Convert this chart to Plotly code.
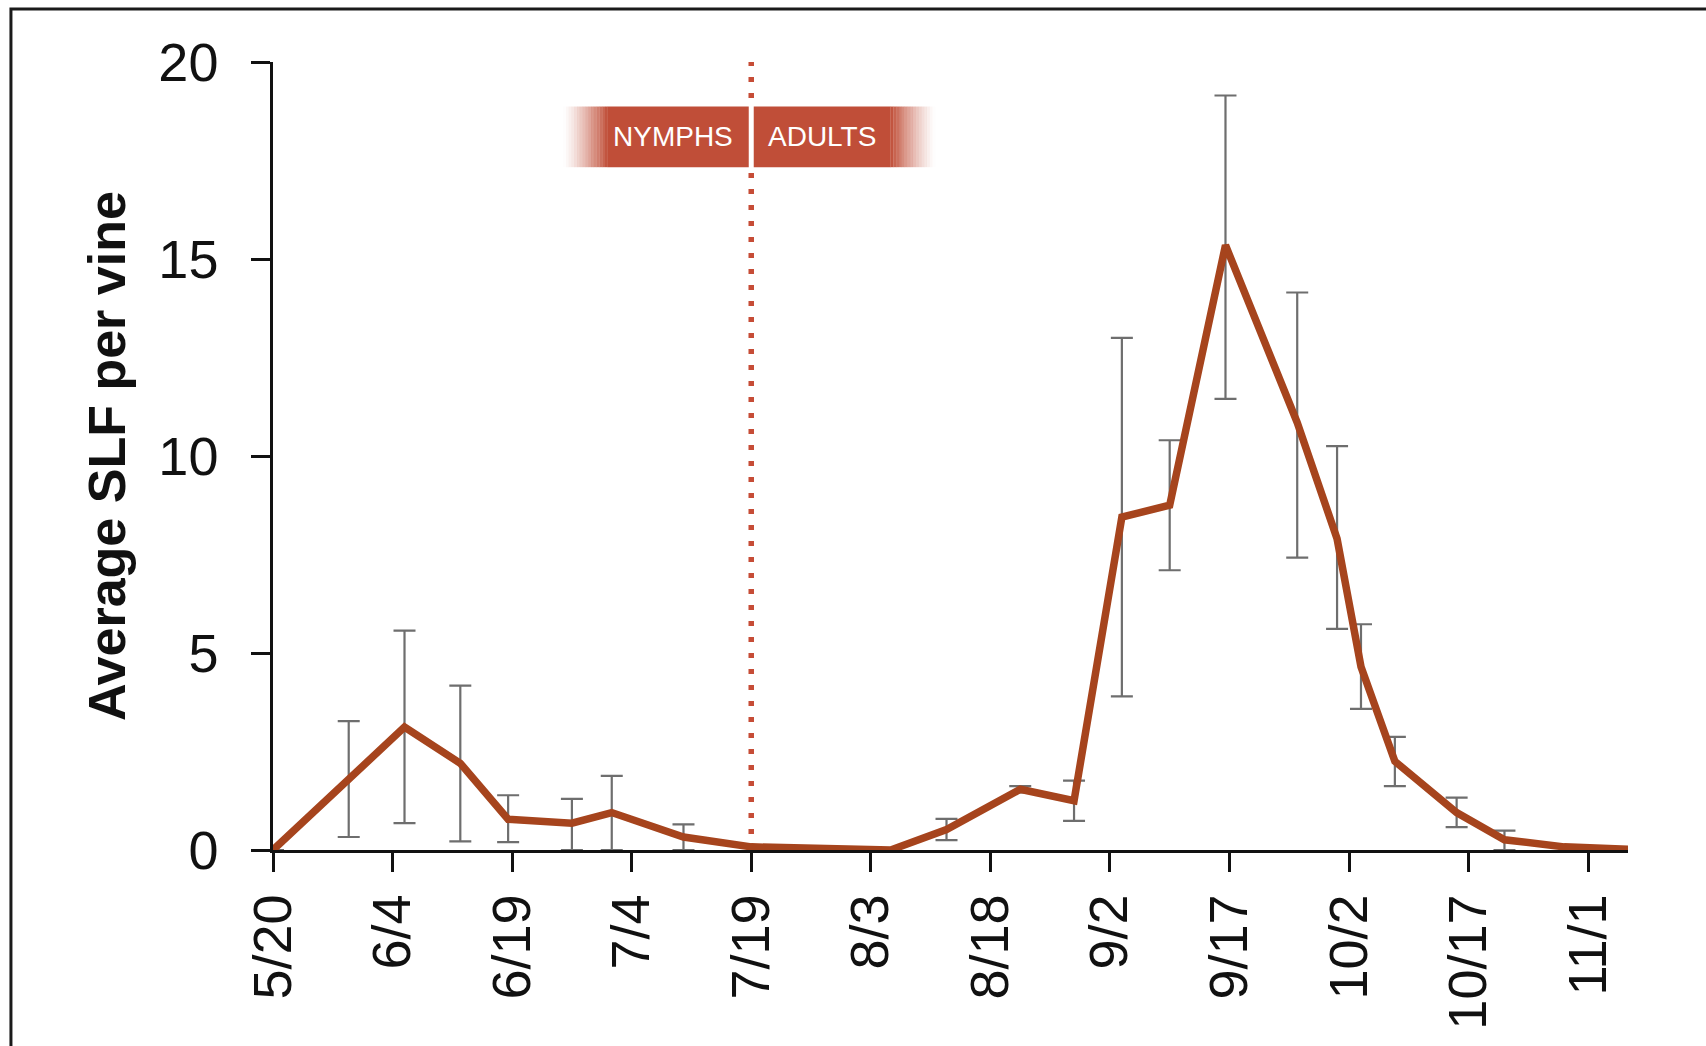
import pandas as pd
import plotly.graph_objects as go

# ---------------- data ----------------
sample_dates = ["2018-05-20", "2018-05-29 12:00", "2018-06-05 12:00", "2018-06-12 12:00",
                "2018-06-18 12:00", "2018-06-26 12:00", "2018-07-01 12:00", "2018-07-10 12:00",
                "2018-07-19", "2018-08-05 12:00", "2018-08-12 12:00", "2018-08-21 18:00",
                "2018-08-28 12:00", "2018-09-03 12:00", "2018-09-09 12:00", "2018-09-16 12:00",
                "2018-09-25 12:00", "2018-09-30 12:00", "2018-10-03 12:00", "2018-10-07 18:00",
                "2018-10-15 12:00", "2018-10-21 12:00", "2018-10-29", "2018-11-06"]
avg_slf = [0, 1.8, 3.12, 2.2, 0.78, 0.68, 0.95, 0.33,
           0.08, 0.0, 0.52, 1.54, 1.25, 8.45, 8.75, 15.35,
           10.85, 7.9, 4.65, 2.25, 0.95, 0.26, 0.08, 0.02]
err_plus = [0, 1.47, 2.45, 1.97, 0.61, 0.62, 0.93, 0.32,
            0, 0, 0.27, 0.08, 0.51, 4.55, 1.65, 3.8,
            3.3, 2.35, 1.08, 0.62, 0.38, 0.23, 0, 0]
err_minus = [0, 1.47, 2.44, 1.98, 0.58, 0.68, 0.95, 0.33,
             0, 0, 0.27, 0.08, 0.51, 4.55, 1.65, 3.9,
             3.43, 2.29, 1.07, 0.63, 0.37, 0.26, 0, 0]

tick_dates = ["2018-05-20", "2018-06-04", "2018-06-19", "2018-07-04", "2018-07-19", "2018-08-03",
              "2018-08-18", "2018-09-02", "2018-09-17", "2018-10-02", "2018-10-17", "2018-11-01"]
tick_labels = ["5/20", "6/4", "6/19", "7/4", "7/19", "8/3", "8/18", "9/2", "9/17", "10/2", "10/17", "11/1"]
y_ticks = [0, 5, 10, 15, 20]

x_range = ["2018-05-20", "2018-11-06"]
stage_change = "2018-07-19"          # nymphs -> adults
banner_start = "2018-07-01"
banner_end = "2018-08-05 12:00"
banner_fade_days = 5.6
banner_y = [17.33, 18.87]
stage_labels = ["NYMPHS", "ADULTS"]

# ---------------- style ----------------
LINE_COLOR = "#A6441D"
BANNER_RGB = (192, 78, 56)
DOT_COLOR = "#C64C36"
ERR_COLOR = "#6E6E6E"
TICK_FONT = "Liberation Sans, Arial, sans-serif"
TITLE_FONT = "Liberation Sans, Arial, sans-serif"

fig = go.Figure()
fig.add_trace(go.Scatter(
    x=sample_dates, y=avg_slf, mode="lines",
    line=dict(color=LINE_COLOR, width=7.5),
    error_y=dict(type="data", symmetric=False, array=err_plus, arrayminus=err_minus,
                 color=ERR_COLOR, thickness=2.2, width=11),
    showlegend=False, hoverinfo="x+y",
))

shapes = []
# dotted stage-change line
shapes.append(dict(type="line", xref="x", yref="y", x0=stage_change, x1=stage_change,
                   y0=0, y1=20, layer="below",
                   line=dict(color=DOT_COLOR, width=5.5, dash="5px,11px")))

# banner: solid core with faded ends
r, g, b = BANNER_RGB
shapes.append(dict(type="rect", xref="x", yref="y", x0=banner_start, x1=banner_end,
                   y0=banner_y[0], y1=banner_y[1], line=dict(width=0),
                   fillcolor=f"rgb({r},{g},{b})", layer="above"))
n_strips = 16
t0 = pd.Timestamp(banner_start)
t1 = pd.Timestamp(banner_end)
step = pd.Timedelta(days=banner_fade_days / n_strips)
for i in range(n_strips):
    alpha = ((i + 0.5) / n_strips) ** 1.3
    xa = t0 - step * (n_strips - i)
    shapes.append(dict(type="rect", xref="x", yref="y", x0=xa, x1=xa + step * 1.05,
                       y0=banner_y[0], y1=banner_y[1], line=dict(width=0),
                       fillcolor=f"rgba({r},{g},{b},{alpha:.3f})", layer="above"))
    xb = t1 + step * (n_strips - 1 - i)
    shapes.append(dict(type="rect", xref="x", yref="y", x0=xb - step * 0.05, x1=xb + step,
                       y0=banner_y[0], y1=banner_y[1], line=dict(width=0),
                       fillcolor=f"rgba({r},{g},{b},{alpha:.3f})", layer="above"))
# white separator in banner
shapes.append(dict(type="line", xref="x", yref="y", x0=stage_change, x1=stage_change,
                   y0=banner_y[0] - 0.05, y1=banner_y[1] + 0.05,
                   line=dict(color="white", width=5), layer="above"))

# outer frame
shapes.append(dict(type="rect", xref="paper", yref="paper", x0=-0.1934, x1=1.2,
                   y0=-0.4, y1=1.0673, line=dict(color="#1a1a1a", width=3),
                   fillcolor="rgba(0,0,0,0)", layer="below"))

annotations = [
    dict(x=stage_change, y=sum(banner_y) / 2, xref="x", yref="y", text=stage_labels[0],
         xanchor="right", yanchor="middle", xshift=-16, showarrow=False,
         font=dict(family=TICK_FONT, size=28, color="white")),
    dict(x=stage_change, y=sum(banner_y) / 2, xref="x", yref="y", text=stage_labels[1],
         xanchor="left", yanchor="middle", xshift=15, showarrow=False,
         font=dict(family=TICK_FONT, size=28, color="white")),
    dict(x=-0.1225, y=0.5, xref="paper", yref="paper", text="<b>Average SLF per vine</b>",
         textangle=-90, xanchor="center", yanchor="middle", showarrow=False,
         font=dict(family=TITLE_FONT, size=52, color="#111111")),
]

fig.update_layout(
    width=1706, height=1046,
    margin=dict(l=273, r=78, t=62, b=196, pad=0),
    paper_bgcolor="white", plot_bgcolor="white",
    shapes=shapes, annotations=annotations,
    xaxis=dict(type="date", range=x_range, tickvals=tick_dates, ticktext=tick_labels,
               tickangle=-90, showline=True, linecolor="#111111", linewidth=2.8,
               ticks="outside", ticklen=19, tickwidth=2.5, tickcolor="#111111",
               showgrid=False, zeroline=False, ticklabelstandoff=1, automargin=False,
               tickfont=dict(family=TICK_FONT, size=54, color="#111111")),
    yaxis=dict(range=[0, 20], tickvals=y_ticks, showline=True, linecolor="#111111",
               linewidth=2.5, ticks="outside", ticklen=19, tickwidth=2.5,
               tickcolor="#111111", showgrid=False, zeroline=False, ticklabelstandoff=22,
               automargin=False,
               tickfont=dict(family=TICK_FONT, size=54, color="#111111")),
)

fig.write_html("out.html", config={"displayModeBar": False},
               post_script="document.body.style.margin='0';document.body.style.overflow='hidden';")
